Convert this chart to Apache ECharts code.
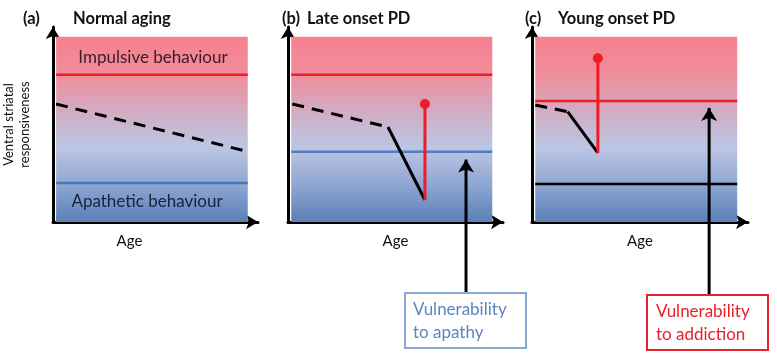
<!DOCTYPE html>
<html>
<head>
<meta charset="utf-8">
<script src="https://cdn.jsdelivr.net/npm/echarts@6/dist/echarts.min.js"></script>
<style>
  html, body { margin: 0; padding: 0; background: #fff; }
  #chart { width: 777px; height: 357px; }
</style>
</head>
<body>
<div id="chart"></div>
<script>
// shared scale: age 0-10, responsiveness 0-10
const bandX = [0.15, 9.5];
const bandTop = 9.5;

// (a) normal aging
const aImpulsive = 7.55;
const aApathetic = 2.0;
const aTrend = [[0.15, 6.05], [9.55, 3.6]];

// (b) late onset PD
const bImpulsive = 7.55;
const bApathy = 3.6;
const bPreOnset = [[0.2, 6.05], [4.65, 4.87]];
const bDecline = [[4.65, 4.87], [6.37, 1.13]];
const bTreat = [[6.37, 1.13], [6.37, 6.05]];
const bArrow = [[8.28, -3.65], [8.28, 3.2]];

// (c) young onset PD
const cAddiction = 6.2;
const cFloor = 1.95;
const cPreOnset = [[0.15, 6.0], [1.65, 5.66]];
const cDecline = [[1.65, 5.66], [3.05, 3.54]];
const cTreat = [[3.05, 3.54], [3.05, 8.4]];
const cArrow = [[8.2, -3.75], [8.2, 5.85]];

const FONT = 'Lato, "Open Sans", sans-serif';

const bgGrad = new echarts.graphic.LinearGradient(0, 0, 0, 1, [
  {offset: 0, color: '#f7808d'},
  {offset: 0.2, color: '#f08d9c'},
  {offset: 0.45, color: '#ccb3cb'},
  {offset: 0.6, color: '#bcc6e4'},
  {offset: 0.8, color: '#8ea6d2'},
  {offset: 1, color: '#5a80b7'}
]);

const grids = [
  {left: 45, top: 27, width: 213, height: 195},
  {left: 288, top: 27, width: 215, height: 195},
  {left: 532, top: 27, width: 216, height: 195}
];

function axis(i, extra) {
  return Object.assign({
    type: 'value', gridIndex: i, min: 0, max: 10,
    axisLine: {show: true, onZero: false, symbol: ['none', 'arrow'], symbolSize: [11, 12],
      lineStyle: {color: '#000', width: 3}},
    axisTick: {show: false}, axisLabel: {show: false}, splitLine: {show: false}
  }, extra || {});
}

function hline(i, y, color) {
  return {
    type: 'line', xAxisIndex: i, yAxisIndex: i, symbol: 'none', z: 3,
    lineStyle: {color: color, width: 2.5},
    data: [[bandX[0], y], [bandX[1], y]]
  };
}

function seg(i, pts, color, dashed) {
  return {
    type: 'line', xAxisIndex: i, yAxisIndex: i, symbol: 'none', z: 4,
    lineStyle: {color: color, width: 3, type: dashed ? [12, 8] : 'solid'},
    data: pts
  };
}

function stem(i, pts) {
  return {
    type: 'line', xAxisIndex: i, yAxisIndex: i, symbol: 'none', showSymbol: true, z: 5,
    lineStyle: {color: '#ee1c24', width: 3},
    data: [pts[0], {value: pts[1], symbol: 'circle', symbolSize: 10, itemStyle: {color: '#ee1c24'}}]
  };
}

function pointer(i, pts) {
  return {
    type: 'line', xAxisIndex: i, yAxisIndex: i, symbol: 'none', showSymbol: true, clip: false, z: 6,
    lineStyle: {color: '#000', width: 3},
    data: [pts[0], {value: pts[1], symbol: 'arrow', symbolSize: [12, 13], itemStyle: {color: '#000'}}]
  };
}

function band(i) {
  return {
    type: 'line', xAxisIndex: i, yAxisIndex: i, symbol: 'none', z: 1, data: [],
    markArea: {silent: true, itemStyle: {color: bgGrad},
      data: [[{coord: [bandX[0], 0]}, {coord: [bandX[1], bandTop]}]]}
  };
}

const ageName = {name: 'Age', nameLocation: 'middle', nameGap: 12,
  nameTextStyle: {fontFamily: FONT, fontSize: 15, color: '#111'}};

const chart = echarts.init(document.getElementById('chart'));
chart.setOption({
  animation: false,
  backgroundColor: '#fff',
  textStyle: {fontFamily: FONT},
  title: [
    {text: '(a)', left: 18, top: 5},
    {text: 'Normal aging', left: 68, top: 5},
    {text: '(b)', left: 277, top: 5},
    {text: 'Late onset PD', left: 302, top: 5},
    {text: '(c)', left: 520, top: 5},
    {text: 'Young onset PD', left: 553, top: 5}
  ].map(t => Object.assign(t, {textStyle: {fontFamily: FONT, fontSize: 16.5, fontWeight: 'bold', color: '#111'}})),
  grid: grids,
  xAxis: [
    axis(0, Object.assign({}, ageName, {nameTextStyle: Object.assign({}, ageName.nameTextStyle, {padding: [0, 52, 0, 0]})})),
    axis(1, ageName),
    axis(2, ageName)
  ],
  yAxis: [
    axis(0, {name: 'Ventral striatal\nresponsiveness', nameLocation: 'middle', nameGap: 20,
      nameTextStyle: {fontFamily: FONT, fontSize: 13, color: '#111', lineHeight: 16}}),
    axis(1), axis(2)
  ],
  graphic: [
    {type: 'text', x: 153, y: 58, z: 10,
      style: {text: 'Impulsive behaviour', fill: '#3a1c26', font: '17px ' + FONT, align: 'center', verticalAlign: 'middle'}},
    {type: 'text', x: 147, y: 202, z: 10,
      style: {text: 'Apathetic behaviour', fill: '#16233f', font: '17px ' + FONT, align: 'center', verticalAlign: 'middle'}},
    {type: 'rect', shape: {x: 405, y: 293, width: 121, height: 55}, z: 10,
      style: {fill: '#fff', stroke: '#86a8d2', lineWidth: 2}},
    {type: 'text', x: 413, y: 321, z: 11,
      style: {text: 'Vulnerability\nto apathy', fill: '#5b86c0', font: '17px ' + FONT, lineHeight: 23, align: 'left', verticalAlign: 'middle'}},
    {type: 'rect', shape: {x: 647, y: 295, width: 121, height: 55}, z: 10,
      style: {fill: '#fff', stroke: '#e8202a', lineWidth: 2}},
    {type: 'text', x: 656, y: 323, z: 11,
      style: {text: 'Vulnerability\nto addiction', fill: '#e8202a', font: '17px ' + FONT, lineHeight: 23, align: 'left', verticalAlign: 'middle'}}
  ],
  series: [
    band(0), band(1), band(2),
    hline(0, aImpulsive, '#ee1c24'),
    hline(0, aApathetic, '#4a78b8'),
    seg(0, aTrend, '#000', true),
    hline(1, bImpulsive, '#ee1c24'),
    hline(1, bApathy, '#4f7fc0'),
    seg(1, bPreOnset, '#000', true),
    seg(1, bDecline, '#000', false),
    stem(1, bTreat),
    pointer(1, bArrow),
    hline(2, cAddiction, '#ee1c24'),
    hline(2, cFloor, '#000'),
    seg(2, cPreOnset, '#000', true),
    seg(2, cDecline, '#000', false),
    stem(2, cTreat),
    pointer(2, cArrow)
  ]
});
</script>
</body>
</html>
